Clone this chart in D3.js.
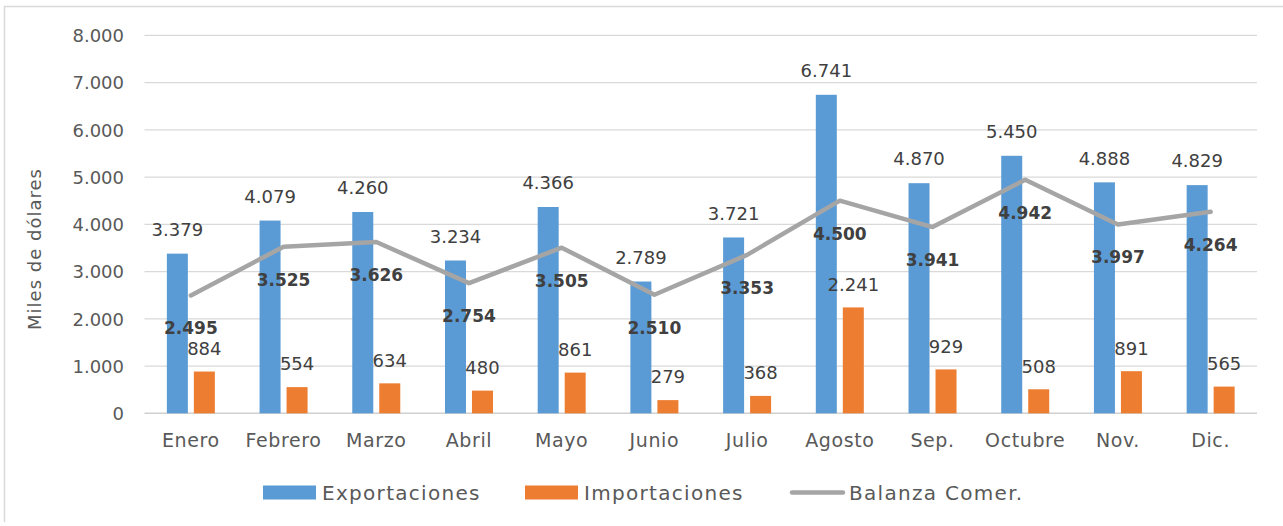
<!DOCTYPE html>
<html><head><meta charset="utf-8">
<script src="https://cdn.jsdelivr.net/npm/d3@7"></script>
<style>body{margin:0;background:#fff}svg{display:block}</style>
</head><body>
<svg id="c" width="1283" height="526"></svg>
<script>
const categories = ["Enero","Febrero","Marzo","Abril","Mayo","Junio","Julio","Agosto","Sep.","Octubre","Nov.","Dic."];
const exportaciones = [3379,4079,4260,3234,4366,2789,3721,6741,4870,5450,4888,4829];
const importaciones = [884,554,634,480,861,279,368,2241,929,508,891,565];
const balanza = [2495,3525,3626,2754,3505,2510,3353,4500,3941,4942,3997,4264];
const yTicks = [0,1000,2000,3000,4000,5000,6000,7000,8000];
const seriesNames = ["Exportaciones","Importaciones","Balanza Comer."];

const svg = d3.select("#c");
const font = "'DejaVu Sans', sans-serif";
const txt = "#595959";
const fmt = v => d3.format(",")(v).replace(/,/g, ".");

// outer frame (top/left)
svg.append("path").attr("d","M4.5,522 V6.5 H1283").attr("fill","none").attr("stroke","#d9d9d9").attr("stroke-width",1.5);

const x = d3.scaleBand().domain(categories).range([144.5,1257]);
const y = d3.scaleLinear().domain([0,8000]).range([413.3,35.3]);
const cx = d => x(d) + x.bandwidth()/2;

// gridlines
svg.append("g").selectAll("line").data(yTicks).join("line")
  .attr("x1",144.5).attr("x2",1257).attr("y1",d=>y(d)).attr("y2",d=>y(d))
  .attr("stroke",d=>d===0?"#d0d0d0":"#d9d9d9").attr("stroke-width",d=>d===0?1.5:1.2);

// y tick labels
const yAxis = d3.axisLeft(y).tickValues(yTicks).tickFormat(fmt).tickSize(0).tickPadding(0);
const ga = svg.append("g").attr("transform","translate(124,0)").call(yAxis);
ga.select(".domain").remove();
ga.selectAll("text").attr("font-family",font).attr("font-size",18).attr("fill",txt).attr("dy","0.35em");

// x labels
const xAxis = d3.axisBottom(x).tickSize(0).tickPadding(0);
const gx = svg.append("g").attr("transform","translate(0,440)").call(xAxis);
gx.select(".domain").remove();
gx.selectAll("text").attr("font-family",font).attr("font-size",19).attr("letter-spacing",0.6).attr("fill",txt).attr("dy","0.35em");

// axis title
svg.append("text").attr("transform","translate(35,249) rotate(-90)").attr("text-anchor","middle")
  .attr("dy","0.35em").attr("font-family",font).attr("font-size",18).attr("letter-spacing",1).attr("fill",txt)
  .text("Miles de dólares");

const bw = 21;
// export bars
svg.append("g").selectAll("rect").data(exportaciones).join("rect")
  .attr("x",(d,i)=>cx(categories[i])-24).attr("width",bw)
  .attr("y",d=>y(d)).attr("height",d=>y(0)-y(d)).attr("fill","#5B9BD5");
// import bars
svg.append("g").selectAll("rect").data(importaciones).join("rect")
  .attr("x",(d,i)=>cx(categories[i])+3).attr("width",bw)
  .attr("y",d=>y(d)).attr("height",d=>y(0)-y(d)).attr("fill","#ED7D31");

// line
const line = d3.line().x((d,i)=>cx(categories[i])).y(d=>y(d));
svg.append("path").datum(balanza).attr("d",line).attr("fill","none")
  .attr("stroke","#A5A5A5").attr("stroke-width",4.5).attr("stroke-linejoin","round").attr("stroke-linecap","round");

// labels
svg.append("g").selectAll("text").data(exportaciones).join("text")
  .attr("x",(d,i)=>cx(categories[i])-13.5).attr("y",d=>y(d)-24).attr("dy","0.35em")
  .attr("text-anchor","middle").attr("font-family",font).attr("font-size",18).attr("fill","#404040").text(fmt);
svg.append("g").selectAll("text").data(importaciones).join("text")
  .attr("x",(d,i)=>cx(categories[i])+13.5).attr("y",d=>y(d)-23).attr("dy","0.35em")
  .attr("text-anchor","middle").attr("font-family",font).attr("font-size",18).attr("fill","#404040").text(fmt);
svg.append("g").selectAll("text").data(balanza).join("text")
  .attr("x",(d,i)=>cx(categories[i])).attr("y",d=>y(d)+33).attr("dy","0.35em")
  .attr("text-anchor","middle").attr("font-family",font).attr("font-size",17).attr("font-weight","bold").attr("fill","#404040").text(fmt);

// legend
const lg = svg.append("g");
const legX = [263,525,790];
const legColors = ["#5B9BD5","#ED7D31","#A5A5A5"];
seriesNames.forEach((n,i)=>{
  if(i<2) lg.append("rect").attr("x",legX[i]).attr("y",485.5).attr("width",53).attr("height",14).attr("fill",legColors[i]);
  else lg.append("line").attr("x1",legX[i]+2).attr("x2",legX[i]+53).attr("y1",492.5).attr("y2",492.5)
     .attr("stroke",legColors[i]).attr("stroke-width",4.5).attr("stroke-linecap","round");
  lg.append("text").attr("x",legX[i]+59).attr("y",492.5).attr("dy","0.35em")
    .attr("font-family",font).attr("font-size",20).attr("letter-spacing",1.3).attr("fill",txt).text(n);
});
</script>
</body></html>
